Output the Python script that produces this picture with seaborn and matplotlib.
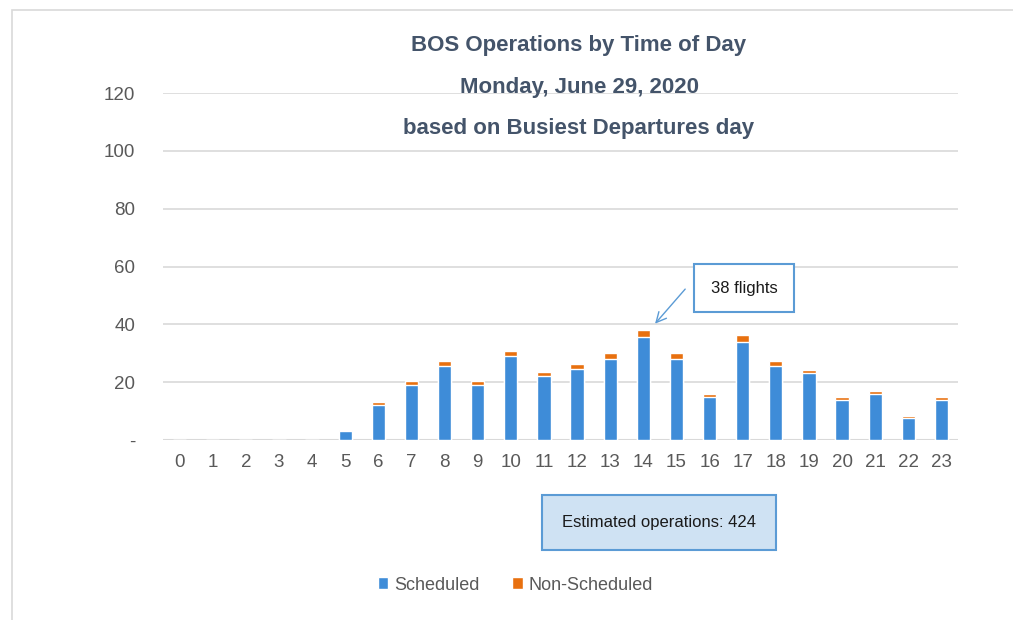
import matplotlib
matplotlib.use("Agg")
import matplotlib.pyplot as plt
from matplotlib.patches import Rectangle, Patch
import seaborn as sns
import pandas as pd

hours = [str(h) for h in range(24)]
scheduled = [0, 0, 0, 0, 0, 3, 12, 19, 25.5, 19, 29, 22, 24.5, 28, 35.5, 28, 15, 34, 25.5, 23, 14, 16, 7.7, 14]
non_scheduled = [0, 0, 0, 0, 0, 0.5, 1, 1.5, 1.8, 1.5, 1.8, 1.4, 1.8, 2, 2.7, 2, 0.8, 2.3, 1.7, 1.2, 0.8, 1, 0.7, 0.8]
yticks = [0, 20, 40, 60, 80, 100, 120]
ytick_labels = ["-", "20", "40", "60", "80", "100", "120"]
title_lines = ["BOS Operations by Time of Day", "Monday, June 29, 2020", "based on Busiest Departures day"]
callout = "38 flights"
total_note = "Estimated operations: 424"

sns.set_theme(style="white")
plt.rcParams['font.family'] = ['Liberation Sans', 'DejaVu Sans']

BLUE = "#3E8CD8"
ORANGE = "#E8700F"
GRID = "#D9D9D9"
TXT = "#595959"
TITLE = "#44546A"

df = pd.DataFrame({
    "hour": hours,
    "scheduled": scheduled,
    "total": [s + n for s, n in zip(scheduled, non_scheduled)],
})

fig = plt.figure(figsize=(10.13, 6.2), dpi=100)
fig.patch.set_facecolor("white")
fig.add_artist(Rectangle((12/1013, -0.05), 1.2, 1.05 - 10/620, transform=fig.transFigure,
                         fill=False, edgecolor="#D9D9D9", linewidth=1.2))

ax = fig.add_axes([163/1013, 1 - 440/620, (958-163)/1013, (440-93)/620])
sns.barplot(data=df, x="hour", y="total", order=hours, color=ORANGE, width=0.4,
            saturation=1, ax=ax, zorder=3)
sns.barplot(data=df, x="hour", y="scheduled", order=hours, color=BLUE, width=0.4,
            saturation=1, ax=ax, zorder=4)

ax.set_ylim(0, 120)
ax.set_xlim(-0.5, 23.5)
ax.set_yticks(yticks)
ax.set_yticklabels(ytick_labels)
ax.yaxis.grid(True, color=GRID, linewidth=1.2, zorder=0)
ax.set_axisbelow(True)
for s in ax.spines.values():
    s.set_visible(False)
ax.axhline(0, color=GRID, linewidth=1.5, zorder=2)
ax.set_xlabel("")
ax.set_ylabel("")
ax.tick_params(axis="y", colors=TXT, labelsize=13.5, pad=20, length=0)
ax.tick_params(axis="x", colors=TXT, labelsize=13.5, pad=10, length=0)

for i, line in enumerate(title_lines):
    fig.text(579/1013, 1 - (46 + i*41.5)/620, line, ha="center", va="center",
             fontsize=16, fontweight="bold", color=TITLE)

fig.text(744/1013, 1 - 288/620, callout, ha="center", va="center", fontsize=12, color="#1a1a1a",
         bbox=dict(boxstyle="square,pad=1.0", facecolor="white", edgecolor="#5B9BD5", linewidth=1.5))
ax.annotate("", xy=(14.3, 39.5), xycoords="data",
            xytext=(687/1013, 1 - 287/620), textcoords="figure fraction",
            arrowprops=dict(arrowstyle="->", color="#5B9BD5", lw=1.0, mutation_scale=18))

fig.text(659/1013, 1 - 522/620, total_note, ha="center", va="center", fontsize=12, color="#1a1a1a",
         bbox=dict(boxstyle="square,pad=1.2", facecolor="#CFE2F3", edgecolor="#5B9BD5", linewidth=1.5))

handles = [Patch(facecolor=BLUE, label="Scheduled"), Patch(facecolor=ORANGE, label="Non-Scheduled")]
fig.legend(handles=handles, loc="center", bbox_to_anchor=(515/1013, 1 - 585/620), ncol=2,
           frameon=False, fontsize=13, labelcolor=TXT, handlelength=0.6, handleheight=0.6,
           handletextpad=0.3, columnspacing=1.8)

fig.savefig("out.png", dpi=100, facecolor="white")
